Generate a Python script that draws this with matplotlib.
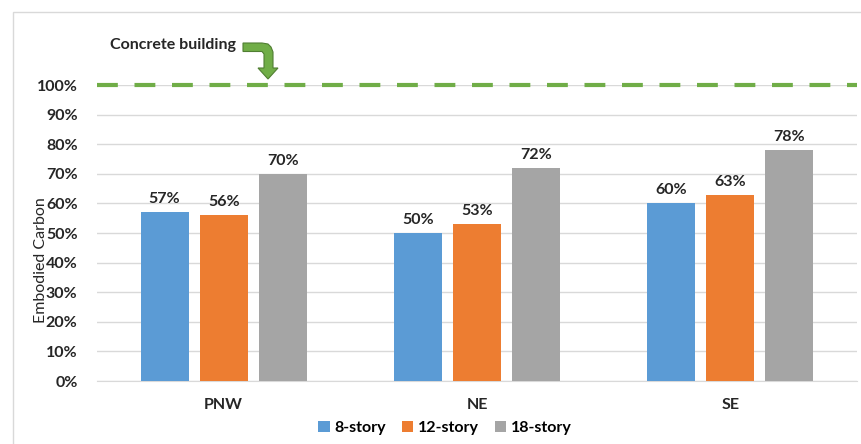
import numpy as np
import matplotlib.pyplot as plt
from matplotlib.patches import Polygon, Rectangle
from matplotlib.ticker import PercentFormatter

# данные
regions = ['PNW', 'NE', 'SE']
series = ['8-story', '12-story', '18-story']
story8 = [57, 50, 60]
story12 = [56, 53, 63]
story18 = [70, 72, 78]
concrete = 100
colors = ['#5B9BD5', '#ED7D31', '#A5A5A5']

plt.rcParams['font.family'] = ['Lato', 'DejaVu Sans']
plt.rcParams['font.weight'] = 'bold'

W, H = 862, 444
fig = plt.figure(figsize=(W/100, H/100), dpi=100)
ax = fig.add_axes([97/W, 1-381/H, 760/W, 296/H])

x = np.arange(len(regions))
width = 0.19
step = 0.233
for i, (vals, name) in enumerate(zip([story8, story12, story18], series)):
    bars = ax.bar(x + (i-1)*step, vals, width, color=colors[i], label=name, zorder=3)
    for b, v in zip(bars, vals):
        ax.text(b.get_x() + b.get_width()/2, v + 2, f'{v}%', ha='center', va='bottom',
                fontsize=11.5, fontweight='bold', color='#262626')

ax.axhline(concrete, color='#70AD47', lw=3, ls=(0, (5, 4)), zorder=4, clip_on=False)

ax.set_xlim(-0.5, 2.5)
ax.set_ylim(0, 100)
ax.set_yticks(np.arange(0, 101, 10))
ax.yaxis.set_major_formatter(PercentFormatter(decimals=0))
ax.set_xticks(x)
ax.set_xticklabels(regions)
ax.grid(axis='y', color='#D9D9D9', lw=1, zorder=0)
for s in ['top', 'right', 'left']:
    ax.spines[s].set_visible(False)
ax.spines['bottom'].set_color('#D9D9D9')
ax.tick_params(length=0, labelsize=11.5, labelcolor='#262626')
ax.tick_params(axis='x', pad=12)
ax.tick_params(axis='y', pad=14)
ax.set_ylabel('Embodied Carbon', fontsize=11.5, fontweight='normal', color='#262626')
ax.yaxis.set_label_coords(-0.064, 0.41)

ax.legend(loc='upper center', bbox_to_anchor=(0.458, -0.085), ncol=3, frameon=False,
          fontsize=11.5, handlelength=0.7, handleheight=0.7, handletextpad=0.3, columnspacing=1.0)

# подпись и изогнутая стрелка (в пикселях)
fig.text(110/W, 1-45/H, 'Concrete building', fontsize=11.5, fontweight='bold',
         color='#262626', va='center')
arrow_px = [(243, 43), (262, 43), (268, 44), (271, 47), (273, 52), (273, 68), (278, 68),
            (268, 79), (258, 68), (264, 68), (264, 54), (262, 51.5), (243, 51.5)]
arrow_xy = [(px/W, 1-py/H) for px, py in arrow_px]
fig.patches.append(Polygon(arrow_xy, closed=True, transform=fig.transFigure,
                           facecolor='#70AD47', edgecolor='#507E32', lw=0.8))

# рамка
fig.patches.append(Rectangle((13/W, -0.01), 1, 1-12/H + 0.01, transform=fig.transFigure,
                             fill=False, edgecolor='#D9D9D9', lw=1))

fig.savefig('out.png', dpi=100)
